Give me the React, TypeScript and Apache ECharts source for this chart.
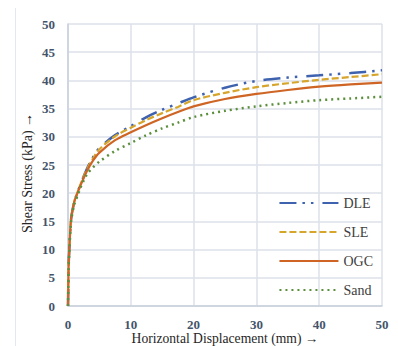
import React, { useEffect, useRef } from "react";
import * as echarts from "echarts";

const xValues = [0, 0.1, 0.25, 0.5, 1, 1.5, 2, 3, 4, 5, 7.5, 10, 12.5, 15, 17.5, 20, 25, 30, 35, 40, 45, 50];
const dle = [0, 7, 11, 15.5, 18.5, 20.1, 21.6, 24.3, 26.4, 28.0, 30.3, 31.9, 33.5, 34.8, 35.9, 37.0, 38.7, 39.9, 40.5, 40.9, 41.3, 41.8];
const sle = [0, 7, 11, 15.5, 18.5, 20.1, 21.6, 24.2, 26.2, 27.8, 30.1, 31.6, 33.0, 34.2, 35.3, 36.5, 37.8, 38.8, 39.5, 40.1, 40.6, 41.1];
const ogc = [0, 7, 11, 15.5, 18.5, 20, 21.4, 23.9, 25.8, 27.2, 29.4, 30.8, 32.1, 33.3, 34.4, 35.4, 36.7, 37.6, 38.3, 38.9, 39.3, 39.6];
const sand = [0, 6.5, 10.5, 15, 18, 19.5, 21, 23.3, 24.6, 25.6, 27.5, 28.9, 30.3, 31.5, 32.5, 33.5, 34.6, 35.4, 36.0, 36.5, 36.8, 37.1];
const seriesNames = ["DLE", "SLE", "OGC", "Sand"];

const pair = (ys: number[]) => xValues.map((x, i) => [x, ys[i]]);

export default function App() {
  const ref = useRef<HTMLDivElement>(null);
  useEffect(() => {
    if (!ref.current) return;
    const chart = echarts.init(ref.current, null, { renderer: "svg" });
    const serif = "Liberation Serif";
    const mk = (name: string, ys: number[], color: string, type: any, width: number) => ({
      name,
      type: "line",
      data: pair(ys),
      showSymbol: false,
      symbol: "none",
      smooth: 0.3,
      lineStyle: { color, width, type, cap: "butt" },
      itemStyle: { color },
    });
    chart.setOption({
      animation: false,
      graphic: [
        {
          type: "rect",
          shape: { x: 15.5, y: 6.5, width: 420, height: 400 },
          style: { fill: "none", stroke: "#e3e7ee", lineWidth: 1 },
          silent: true,
        },
      ],
      grid: { left: 68, right: 16, top: 24, bottom: 40, outerBoundsMode: "none", containLabel: false },
      legend: {
        orient: "vertical",
        right: 20,
        top: 191,
        itemWidth: 59,
        itemHeight: 14,
        itemGap: 15,
        data: seriesNames,
        itemStyle: { opacity: 0 },
        textStyle: { fontFamily: serif, fontSize: 14, color: "#404040" },
      },
      xAxis: {
        type: "value",
        min: 0,
        max: 50,
        interval: 10,
        name: "Horizontal Displacement (mm) →",
        nameLocation: "middle",
        nameMoveOverlap: false,
        nameGap: 25,
        nameTextStyle: { fontFamily: serif, fontSize: 13.6, color: "#262626" },
        axisLine: { show: true, lineStyle: { color: "#c8cfdc", width: 1.5 } },
        axisTick: { show: false },
        splitLine: { show: true, lineStyle: { color: "#dde2ea", width: 1.5 } },
        axisLabel: { fontFamily: serif, fontSize: 13, fontWeight: "bold", color: "#44546A", margin: 12 },
      },
      yAxis: {
        type: "value",
        min: 0,
        max: 50,
        interval: 5,
        name: "Shear Stress (kPa) →",
        nameLocation: "middle",
        nameMoveOverlap: false,
        nameGap: 34,
        nameTextStyle: { fontFamily: serif, fontSize: 14, color: "#262626", padding: [0, 16, 0, 0] },
        axisLine: { show: true, lineStyle: { color: "#c8cfdc", width: 1.5 } },
        axisTick: { show: false },
        splitLine: { show: true, lineStyle: { color: "#dde2ea", width: 1.5 } },
        axisLabel: { fontFamily: serif, fontSize: 13, fontWeight: "bold", color: "#44546A", margin: 13 },
      },
      series: [
        mk("DLE", dle, "#3E62AE", [17, 6, 2.5, 6, 2.5, 9], 2.5),
        mk("SLE", sle, "#D6A52C", [7, 3], 2.2),
        mk("OGC", ogc, "#CF6524", "solid", 2.2),
        mk("Sand", sand, "#5B8F3B", [2, 4], 2.5),
      ],
    });
    return () => chart.dispose();
  }, []);
  return <div ref={ref} style={{ width: 398, height: 346, marginLeft: -8, marginTop: -8 }} />;
}
